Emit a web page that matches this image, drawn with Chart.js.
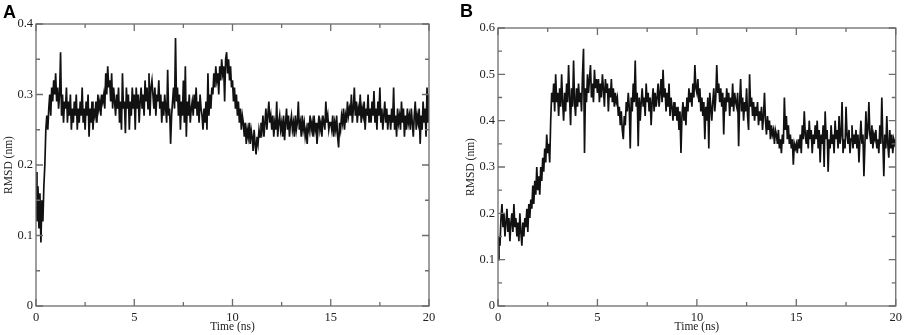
<!DOCTYPE html>
<html>
<head>
<meta charset="utf-8">
<script src="https://cdn.jsdelivr.net/npm/chart.js@4.4.1/dist/chart.umd.min.js"></script>
<style>
  body { margin: 0; background: #fff; }
  #wrap { position: relative; width: 906px; height: 335px; overflow: hidden; }
  .panel { position: absolute; top: 0; }
  .letter { position: absolute; font: bold 18px "Liberation Sans", Arial, sans-serif; color: #000; }
</style>
</head>
<body>
<div id="wrap">
  <canvas id="chartA" class="panel" width="450" height="335" style="left:0"></canvas>
  <canvas id="chartB" class="panel" width="456" height="335" style="left:450px"></canvas>
  <div class="letter" style="left:3px; top:2px">A</div>
  <div class="letter" style="left:460px; top:1px">B</div>
</div>
<script>
// sample spacing of both trajectories (ns)
var TIME_STEP = 0.05;

// RMSD (nm), panel A, one row per ns
var rmsdA = [
  0.19,0.12,0.17,0.11,0.16,0.09,0.15,0.12,0.17,0.20,0.25,0.27,0.25,0.28,0.30,0.27,0.31,0.29,0.32,0.30,
  0.33,0.29,0.31,0.28,0.30,0.36,0.27,0.30,0.26,0.29,0.28,0.31,0.26,0.29,0.27,0.30,0.25,0.28,0.26,0.29,
  0.27,0.30,0.25,0.28,0.26,0.29,0.27,0.31,0.26,0.28,0.25,0.29,0.27,0.30,0.24,0.28,0.26,0.29,0.25,0.28,
  0.27,0.29,0.26,0.30,0.28,0.29,0.27,0.30,0.29,0.30,0.28,0.33,0.30,0.34,0.31,0.32,0.29,0.33,0.28,0.31,
  0.29,0.27,0.30,0.28,0.31,0.26,0.29,0.25,0.33,0.28,0.29,0.245,0.31,0.28,0.30,0.25,0.29,0.27,0.31,0.28,
  0.30,0.25,0.31,0.28,0.30,0.26,0.29,0.31,0.28,0.30,0.27,0.32,0.29,0.31,0.28,0.33,0.27,0.31,0.32,0.30,
  0.28,0.31,0.27,0.30,0.29,0.32,0.28,0.30,0.26,0.29,0.27,0.30,0.28,0.26,0.335,0.27,0.28,0.23,0.27,0.29,
  0.31,0.28,0.38,0.29,0.31,0.27,0.30,0.25,0.29,0.27,0.32,0.26,0.34,0.24,0.29,0.27,0.30,0.26,0.28,0.29,
  0.27,0.30,0.28,0.31,0.27,0.29,0.26,0.30,0.28,0.27,0.25,0.28,0.26,0.29,0.25,0.33,0.27,0.30,0.28,0.31,
  0.30,0.33,0.31,0.34,0.32,0.33,0.30,0.34,0.32,0.35,0.33,0.34,0.29,0.35,0.36,0.33,0.35,0.32,0.34,0.31,
  0.32,0.29,0.31,0.28,0.30,0.27,0.29,0.26,0.28,0.25,0.27,0.26,0.24,0.26,0.23,0.25,0.24,0.26,0.23,0.25,
  0.24,0.22,0.25,0.23,0.215,0.24,0.23,0.25,0.24,0.26,0.25,0.27,0.24,0.26,0.28,0.25,0.27,0.29,0.26,0.27,
  0.25,0.27,0.24,0.26,0.25,0.29,0.24,0.26,0.27,0.25,0.26,0.24,0.27,0.235,0.26,0.28,0.25,0.27,0.24,0.26,
  0.27,0.25,0.26,0.24,0.27,0.25,0.26,0.29,0.25,0.26,0.24,0.27,0.25,0.26,0.24,0.25,0.23,0.26,0.25,0.27,
  0.25,0.26,0.24,0.27,0.25,0.26,0.23,0.25,0.27,0.25,0.26,0.24,0.27,0.26,0.25,0.29,0.26,0.27,0.25,0.26,
  0.26,0.25,0.27,0.24,0.26,0.25,0.27,0.24,0.225,0.26,0.25,0.27,0.26,0.28,0.25,0.27,0.26,0.29,0.27,0.28,
  0.27,0.30,0.26,0.28,0.31,0.27,0.29,0.26,0.28,0.27,0.30,0.26,0.28,0.27,0.29,0.25,0.28,0.27,0.30,0.26,
  0.28,0.26,0.29,0.27,0.305,0.26,0.28,0.25,0.29,0.27,0.31,0.26,0.28,0.25,0.27,0.29,0.26,0.28,0.25,0.27,
  0.27,0.25,0.28,0.26,0.31,0.25,0.27,0.24,0.28,0.26,0.27,0.25,0.29,0.26,0.28,0.24,0.27,0.25,0.28,0.26,
  0.27,0.25,0.28,0.26,0.24,0.27,0.29,0.25,0.27,0.26,0.28,0.23,0.27,0.25,0.29,0.26,0.28,0.24,0.31,0.26,
  0.30
];

// RMSD (nm), panel B, one row per ns
var rmsdB = [
  0.10,0.15,0.13,0.19,0.22,0.17,0.20,0.15,0.18,0.21,0.16,0.19,0.14,0.18,0.20,0.16,0.22,0.17,0.19,0.15,
  0.18,0.14,0.20,0.16,0.13,0.18,0.15,0.19,0.17,0.21,0.16,0.22,0.19,0.23,0.21,0.26,0.22,0.27,0.24,0.30,
  0.25,0.28,0.24,0.30,0.27,0.32,0.29,0.34,0.31,0.37,0.33,0.35,0.31,0.40,0.46,0.44,0.48,0.42,0.50,0.44,
  0.46,0.41,0.47,0.43,0.50,0.44,0.40,0.46,0.42,0.48,0.44,0.52,0.45,0.39,0.47,0.43,0.53,0.44,0.41,0.47,
  0.43,0.48,0.44,0.46,0.42,0.50,0.555,0.33,0.47,0.44,0.50,0.46,0.49,0.52,0.45,0.48,0.44,0.51,0.47,0.49,
  0.46,0.49,0.44,0.48,0.45,0.50,0.47,0.43,0.49,0.46,0.48,0.42,0.47,0.45,0.49,0.44,0.47,0.43,0.46,0.44,
  0.45,0.41,0.43,0.39,0.42,0.38,0.36,0.41,0.39,0.44,0.42,0.46,0.43,0.34,0.45,0.42,0.48,0.44,0.53,0.43,
  0.46,0.345,0.45,0.40,0.44,0.47,0.43,0.45,0.41,0.48,0.44,0.46,0.42,0.45,0.39,0.44,0.47,0.42,0.46,0.43,
  0.45,0.48,0.43,0.46,0.49,0.44,0.51,0.45,0.47,0.42,0.46,0.43,0.48,0.41,0.45,0.43,0.40,0.44,0.41,0.43,
  0.40,0.43,0.38,0.42,0.33,0.41,0.44,0.40,0.43,0.39,0.45,0.42,0.47,0.44,0.46,0.43,0.48,0.45,0.52,0.47,
  0.46,0.49,0.44,0.47,0.42,0.45,0.41,0.44,0.36,0.43,0.40,0.45,0.34,0.46,0.43,0.40,0.44,0.47,0.42,0.45,
  0.52,0.46,0.48,0.44,0.47,0.43,0.46,0.37,0.45,0.42,0.47,0.44,0.46,0.41,0.45,0.43,0.48,0.42,0.46,0.44,
  0.43,0.46,0.345,0.44,0.49,0.42,0.45,0.40,0.44,0.42,0.47,0.41,0.38,0.50,0.43,0.45,0.41,0.44,0.40,0.43,
  0.41,0.44,0.39,0.42,0.40,0.43,0.38,0.41,0.46,0.40,0.37,0.41,0.38,0.40,0.36,0.39,0.37,0.38,0.35,0.38,
  0.37,0.35,0.38,0.34,0.36,0.33,0.37,0.35,0.45,0.38,0.41,0.36,0.39,0.35,0.37,0.34,0.36,0.305,0.35,0.34,
  0.35,0.33,0.36,0.34,0.37,0.33,0.39,0.36,0.42,0.37,0.35,0.38,0.34,0.40,0.36,0.38,0.33,0.37,0.35,0.39,
  0.36,0.40,0.34,0.38,0.31,0.37,0.35,0.39,0.30,0.42,0.36,0.38,0.29,0.36,0.34,0.39,0.35,0.37,0.33,0.40,
  0.36,0.38,0.34,0.41,0.35,0.37,0.44,0.33,0.36,0.34,0.43,0.37,0.35,0.38,0.33,0.36,0.39,0.34,0.37,0.35,
  0.38,0.34,0.37,0.31,0.36,0.40,0.35,0.37,0.28,0.35,0.42,0.36,0.38,0.44,0.37,0.35,0.39,0.34,0.37,0.36,
  0.38,0.34,0.36,0.33,0.39,0.35,0.45,0.36,0.28,0.37,0.34,0.41,0.35,0.32,0.38,0.34,0.37,0.33,0.36,0.35,
  0.36
];

var timeTicks = [0, 5, 10, 15, 20];
var yMaxA = 0.4, yMaxB = 0.6;

// xmgrace-like box with inward major/minor ticks on all four sides
var frameTicks = {
  id: 'frameTicks',
  afterDraw: function(chart) {
    var ctx = chart.ctx, a = chart.chartArea;
    var xs = chart.scales.x, ys = chart.scales.y;
    ctx.save();
    ctx.strokeStyle = '#6c6c6c';
    ctx.lineWidth = 1.3;
    ctx.strokeRect(a.left, a.top, a.right - a.left, a.bottom - a.top);
    ctx.beginPath();
    var mark = function(scale, horiz) {
      var vals = scale.ticks.map(function(t) { return t.value; });
      vals.forEach(function(v, i) {
        var list = [[v, 7]];
        if (i < vals.length - 1) list.push([(v + vals[i + 1]) / 2, 4]);
        list.forEach(function(m) {
          var p = scale.getPixelForValue(m[0]);
          if (horiz) {
            ctx.moveTo(p, a.bottom); ctx.lineTo(p, a.bottom - m[1]);
            ctx.moveTo(p, a.top); ctx.lineTo(p, a.top + m[1]);
          } else {
            ctx.moveTo(a.left, p); ctx.lineTo(a.left + m[1], p);
            ctx.moveTo(a.right, p); ctx.lineTo(a.right - m[1], p);
          }
        });
      });
    };
    mark(xs, true);
    mark(ys, false);
    ctx.stroke();
    ctx.restore();
  }
};

var makeChart = function(id, values, yMax, pad, yAxisW, yTitlePad) {
  var pts = values.map(function(v, i) { return { x: i * TIME_STEP, y: v }; });
  var tickFont = { family: '"Liberation Serif", "Times New Roman", serif', size: 12.5 };
  var titleFont = { family: '"Liberation Serif", "Times New Roman", serif', size: 11.5 };
  return new Chart(document.getElementById(id), {
    type: 'line',
    data: {
      datasets: [{
        data: pts,
        borderColor: '#111',
        borderWidth: 1.7,
        pointRadius: 0,
        tension: 0,
        fill: false
      }]
    },
    options: {
      responsive: false,
      animation: false,
      events: [],
      layout: { padding: pad },
      plugins: { legend: { display: false }, tooltip: { enabled: false } },
      scales: {
        x: {
          type: 'linear',
          min: timeTicks[0],
          max: timeTicks[timeTicks.length - 1],
          afterBuildTicks: function(s) { s.ticks = timeTicks.map(function(v) { return { value: v }; }); },
          afterFit: function(s) { s.height = 29; },
          grid: { display: false, drawTicks: false },
          border: { display: false },
          ticks: { color: '#222', font: tickFont, padding: 4, maxRotation: 0 },
          title: { display: true, text: 'Time (ns)', color: '#222', font: titleFont, padding: { top: 0, bottom: 1 } }
        },
        y: {
          min: 0,
          max: yMax,
          afterFit: function(s) { s.width = yAxisW; },
          grid: { display: false, drawTicks: false },
          border: { display: false },
          ticks: { stepSize: 0.1, color: '#222', font: tickFont, padding: 3 },
          title: { display: true, text: 'RMSD (nm)', color: '#222', font: titleFont, padding: { top: yTitlePad, bottom: 0 } }
        }
      }
    },
    plugins: [frameTicks]
  });
};

makeChart('chartA', rmsdA, yMaxA, { left: 0, top: 24, right: 21, bottom: 0 }, 36, 2);
makeChart('chartB', rmsdB, yMaxB, { left: 0, top: 28, right: 8, bottom: 0 }, 48, 14);
</script>
</body>
</html>
